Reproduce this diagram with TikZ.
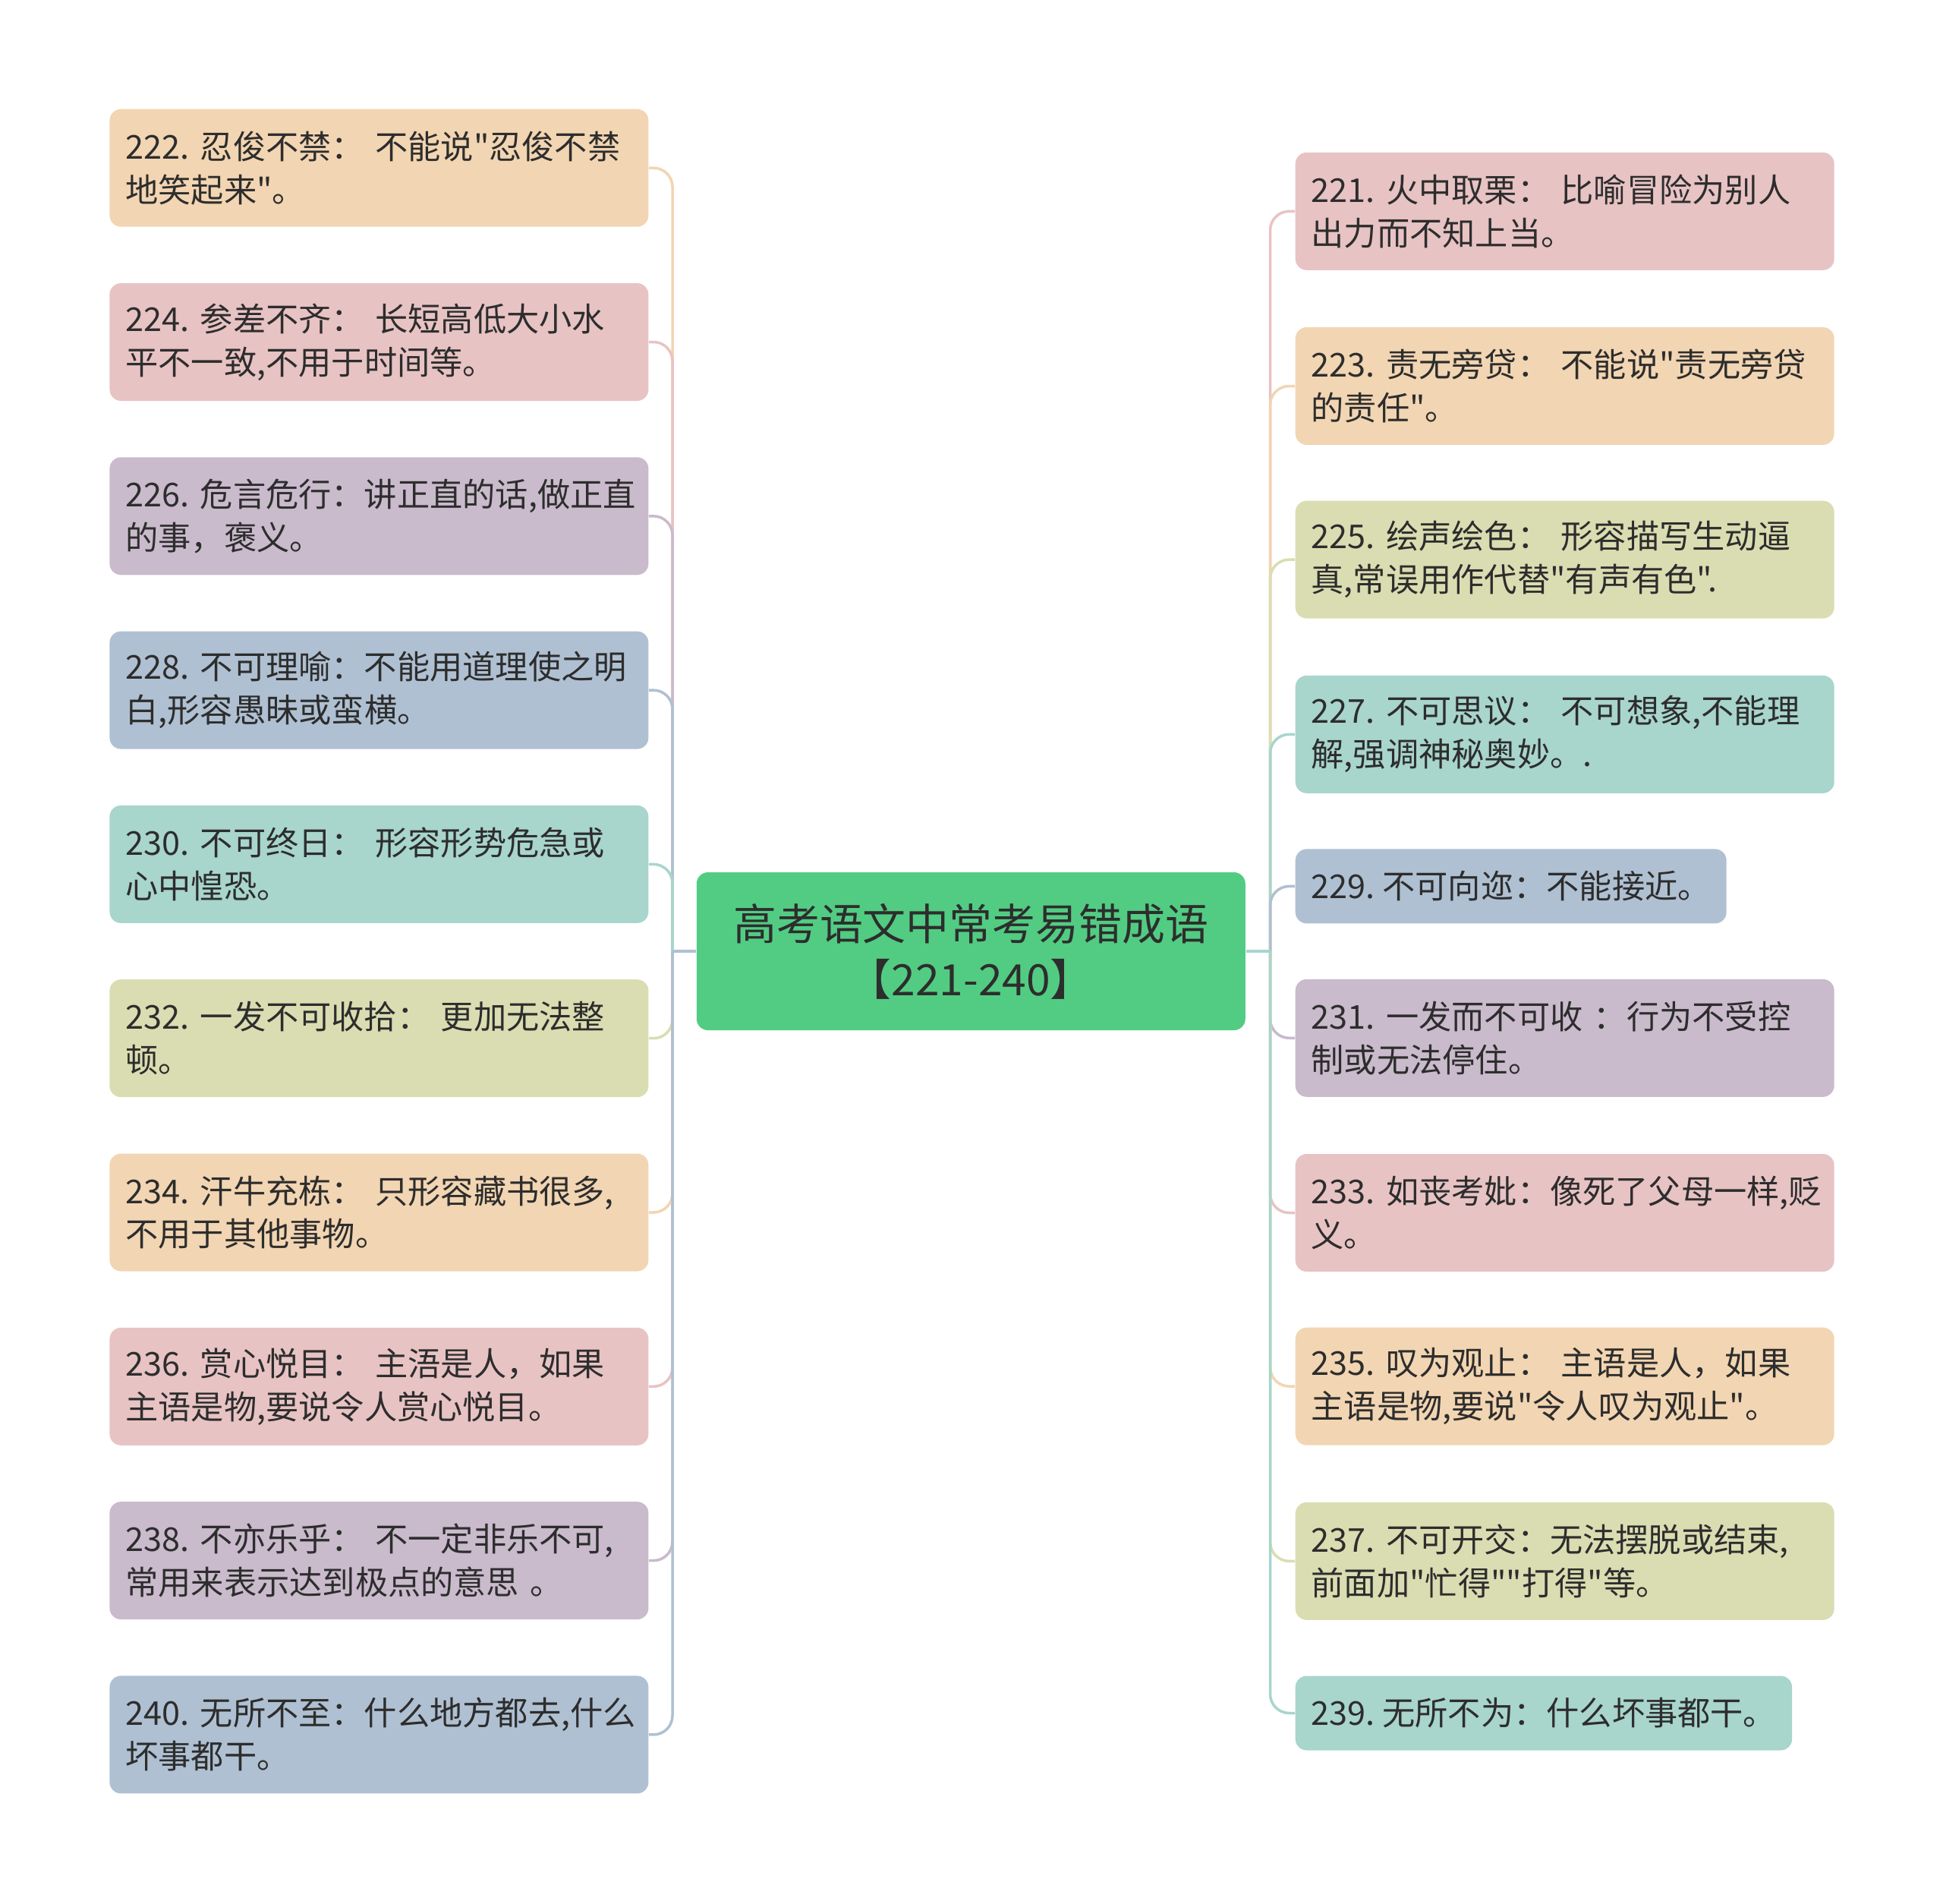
\documentclass[tikz,border=0pt]{standalone}
\usepackage{fontspec}
\setmainfont{Noto Sans CJK SC}[Ligatures=TeXOff]
\definecolor{ink}{HTML}{2D2D2D}
\definecolor{peach}{HTML}{F2D5B2}
\definecolor{pink}{HTML}{E8C3C4}
\definecolor{purple}{HTML}{C9BACC}
\definecolor{steel}{HTML}{AFC0D2}
\definecolor{teal}{HTML}{A8D5CC}
\definecolor{olive}{HTML}{DADDB1}
\definecolor{leafgreen}{HTML}{52CC82}
\tikzset{
  box/.style={rounded corners=0.15cm, inner xsep=0.21cm, inner ysep=0pt, align=left,
    anchor=west, text=ink, font=\fontsize{12.3}{16.2}\selectfont},
  leaf/.style={box, text width=6.68cm, minimum height=1.55cm},
  single/.style={box, minimum height=0.98cm},
  link/.style={line width=1pt, rounded corners=0.25cm}
}
\begin{document}
\begin{tikzpicture}
	\useasboundingbox (0,0) rectangle (25.6,-25.07);
	\node[fill=leafgreen, rounded corners=0.15cm, minimum width=7.23cm, minimum height=2.08cm,
		align=center, text=ink, font=\fontsize{16.2}{20.8}\selectfont] (r) at (12.793,-12.53)
		{高考语文中常考易错成语\\【221-240】};
	\coordinate (lt) at (8.86,-12.53);
	\coordinate (rt) at (16.735,-12.53);
	% left side
	\node[leaf,fill=peach] (n222) at (1.437,-2.212) {222.~忍俊不禁：~不能说"忍俊不禁\\地笑起来"。};
	\node[leaf,fill=pink] (n224) at (1.437,-4.505) {224.~参差不齐：~长短高低大小水\\平不一致,不用于时间等。};
	\node[leaf,fill=purple] (n226) at (1.437,-6.798) {226.~危言危行：讲正直的话,做正直\\的事，褒义。};
	\node[leaf,fill=steel] (n228) at (1.437,-9.091) {228.~不可理喻：不能用道理使之明\\白,形容愚昧或蛮横。};
	\node[leaf,fill=teal] (n230) at (1.437,-11.384) {230.~不可终日：~形容形势危急或\\心中惶恐。};
	\node[leaf,fill=olive] (n232) at (1.437,-13.677) {232.~一发不可收拾：~更加无法整\\顿。};
	\node[leaf,fill=peach] (n234) at (1.437,-15.970) {234.~汗牛充栋：~只形容藏书很多,\\不用于其他事物。};
	\node[leaf,fill=pink] (n236) at (1.437,-18.263) {236.~赏心悦目：~主浯是人，如果\\主语是物,要说令人赏心悦目。};
	\node[leaf,fill=purple] (n238) at (1.437,-20.556) {238.~不亦乐乎：~不一定非乐不可,\\常用来表示达到极点的意思~。};
	\node[leaf,fill=steel] (n240) at (1.437,-22.849) {240.~无所不至：什么地方都去,什么\\坏事都干。};
	% right side
	\node[leaf,fill=pink] (n221) at (17.06,-2.783) {221.~火中取栗：~比喻冒险为别人\\出力而不知上当。};
	\node[leaf,fill=peach] (n223) at (17.06,-5.085) {223.~责无旁贷：~不能说"责无旁贷\\的责任"。};
	\node[leaf,fill=olive] (n225) at (17.06,-7.371) {225.~绘声绘色：~形容描写生动逼\\真,常误用作代替"有声有色".};
	\node[leaf,fill=teal] (n227) at (17.06,-9.673) {227.~不可思议：~不可想象,不能理\\解,强调神秘奥妙。.};
	\node[single,fill=steel] (n229) at (17.06,-11.674) {229.~不可向迩：不能接近。};
	\node[leaf,fill=purple] (n231) at (17.06,-13.673) {231.~一发而不可收~：行为不受控\\制或无法停住。};
	\node[leaf,fill=pink] (n233) at (17.06,-15.975) {233.~如丧考妣：像死了父母一样,贬\\义。};
	\node[leaf,fill=peach] (n235) at (17.06,-18.261) {235.~叹为观止：~主语是人，如果\\主语是物,要说"令人叹为观止"。};
	\node[leaf,fill=olive] (n237) at (17.06,-20.563) {237.~不可开交：无法摆脱或结束,\\前面加"忙得""打得"等。};
	\node[single,fill=teal] (n239) at (17.06,-22.565) {239.~无所不为：什么坏事都干。};
	% links
	\draw[link,peach] (lt) |- (n222.east);
	\draw[link,pink] (lt) |- (n224.east);
	\draw[link,purple] (lt) |- (n226.east);
	\draw[link,steel] (lt) |- (n228.east);
	\draw[link,teal] (lt) |- (n230.east);
	\draw[link,olive] (lt) |- (n232.east);
	\draw[link,peach] (lt) |- (n234.east);
	\draw[link,pink] (lt) |- (n236.east);
	\draw[link,purple] (lt) |- (n238.east);
	\draw[link,steel] (lt) |- (n240.east);
	\draw[link,steel] (r.west) -- (lt);
	\draw[link,pink] (rt) |- (n221.west);
	\draw[link,peach] (rt) |- (n223.west);
	\draw[link,olive] (rt) |- (n225.west);
	\draw[link,teal] (rt) |- (n227.west);
	\draw[link,steel] (rt) |- (n229.west);
	\draw[link,purple] (rt) |- (n231.west);
	\draw[link,pink] (rt) |- (n233.west);
	\draw[link,peach] (rt) |- (n235.west);
	\draw[link,olive] (rt) |- (n237.west);
	\draw[link,teal] (rt) |- (n239.west);
	\draw[link,teal] (r.east) -- (rt);
\end{tikzpicture}
\end{document}
